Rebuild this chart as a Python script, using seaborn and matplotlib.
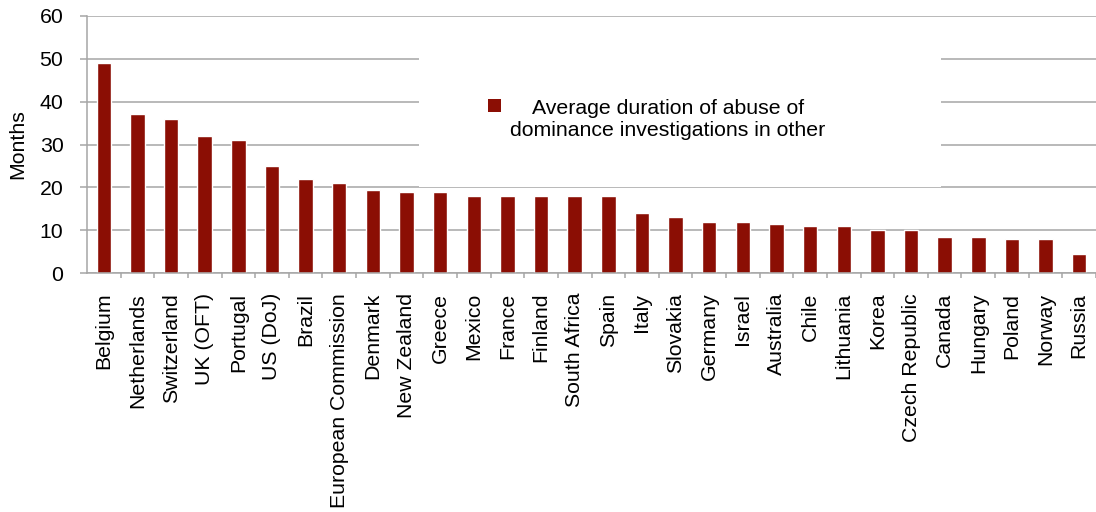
import numpy as np
import pandas as pd
import matplotlib
matplotlib.use("Agg")
import matplotlib.pyplot as plt
from matplotlib.patches import Patch, Rectangle
from matplotlib.legend_handler import HandlerPatch
import seaborn as sns

# ДАННЫЕ
countries = ["Belgium", "Netherlands", "Switzerland", "UK (OFT)", "Portugal",
             "US (DoJ)", "Brazil", "European Commission", "Denmark", "New Zealand",
             "Greece", "Mexico", "France", "Finland", "South Africa", "Spain",
             "Italy", "Slovakia", "Germany", "Israel", "Australia", "Chile",
             "Lithuania", "Korea", "Czech Republic", "Canada", "Hungary",
             "Poland", "Norway", "Russia"]
months = [49, 37, 36, 32, 31, 25, 22, 21, 19.5, 19, 19, 18, 18, 18, 18, 18,
          14, 13, 12, 12, 11.5, 11, 11, 10, 10, 8.5, 8.5, 8, 8, 4.5]
y_ticks = [0, 10, 20, 30, 40, 50, 60]
legend_text = "Average duration of abuse of\ndominance investigations in other"

df = pd.DataFrame({"country": countries, "months": months})

bar_color = "#8B0E04"
grid_color = "#A6A6A6"
fs = 15.3

sns.set_theme(style="white")
plt.rcParams["font.family"] = ["Liberation Sans", "DejaVu Sans"]
plt.rcParams["text.color"] = "black"

fig = plt.figure(figsize=(10.96, 5.12), dpi=100)
ax = fig.add_axes([87 / 1096, 0.4662, 1009 / 1096, 0.5031])

sns.barplot(data=df, x="country", y="months", color=bar_color, saturation=1,
            width=0.43, ax=ax, zorder=2)

ax.set_xlim(-0.5, 29.18)
ax.set_ylim(0, 60)
ax.set_yticks(y_ticks)
ax.set_axisbelow(True)
ax.yaxis.grid(True, color=grid_color, linewidth=1.1)
ax.xaxis.grid(False)

for s in ["top", "right"]:
    ax.spines[s].set_visible(False)
for s in ["left", "bottom"]:
    ax.spines[s].set_color(grid_color)
    ax.spines[s].set_linewidth(1.1)

# подписи осей
ax.set_xlabel("")
ax.set_ylabel("Months", fontsize=fs, color="black")
ax.yaxis.set_label_coords(-0.0595, 0.5)
ax.tick_params(axis="y", length=5, width=1.1, color=grid_color, pad=12,
               labelsize=fs, labelcolor="black", direction="out", left=True)
ax.tick_params(axis="x", which="major", length=0, pad=14, labelsize=fs,
               labelrotation=90, labelcolor="black")
ax.set_xticks(np.arange(len(countries)) + 0.5, minor=True)
ax.tick_params(axis="x", which="minor", length=3.6, width=1.1,
               color=grid_color, direction="out", bottom=True)

# белая подложка под легендой
ax.add_patch(Rectangle((0.329, 0.335), 0.517, 0.656, transform=ax.transAxes,
                       facecolor="white", edgecolor="none", zorder=0.8))


def key_square(legend, orig_handle, xdescent, ydescent, width, height, fontsize):
    return Rectangle((-xdescent, 10.4), width, width)


handle = Patch(facecolor=bar_color, edgecolor="none")
leg = ax.legend([handle], [legend_text], loc="upper left",
                bbox_to_anchor=(0.3974, 0.677), borderaxespad=0, borderpad=0,
                frameon=False, fontsize=fs, handlelength=0.62,
                handletextpad=0.42,
                handler_map={Patch: HandlerPatch(patch_func=key_square)})
txt = leg.get_texts()[0]
txt.set_multialignment("center")
txt.set_color("black")
# нижняя строка легенды обрезана, как на исходной картинке
clip = Rectangle((0.0, 0.511), 1.0, 0.489, transform=ax.transAxes,
                 facecolor="none", edgecolor="none")
txt.set_clip_path(clip)

fig.savefig("out.png", dpi=100)
